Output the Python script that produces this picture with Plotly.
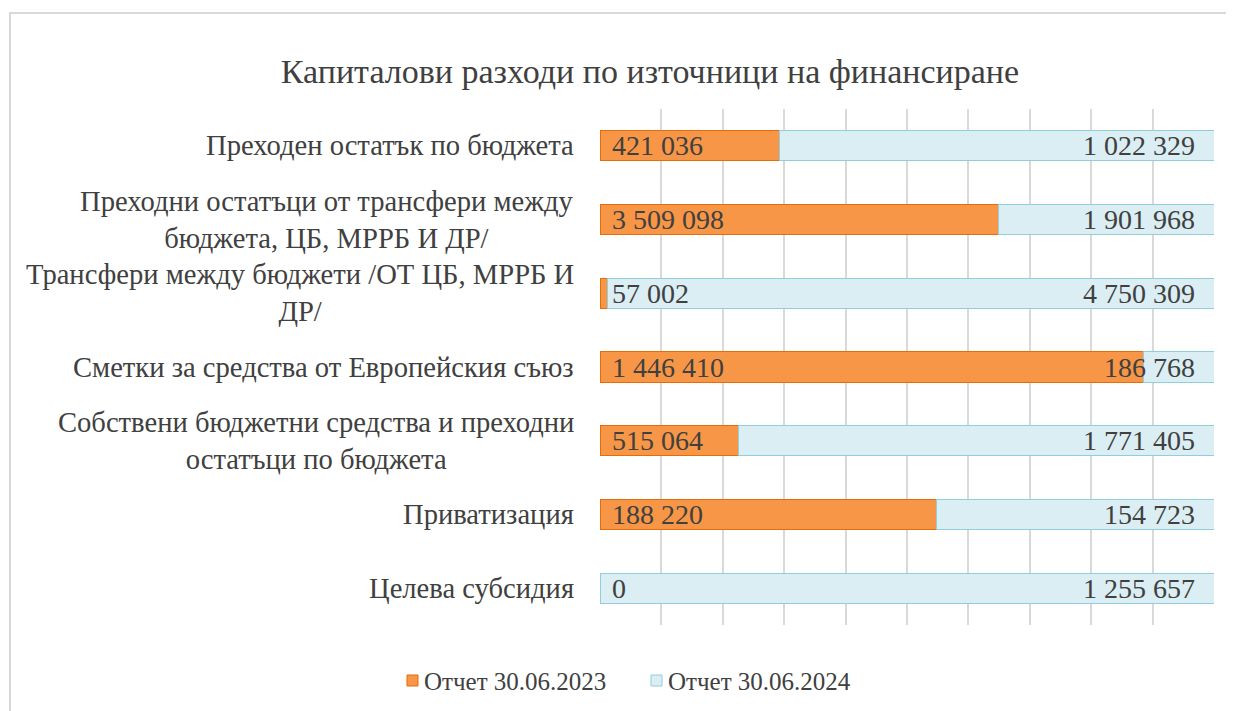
import plotly.graph_objects as go

categories = [
    "Преходен остатък по бюджета",
    "Преходни остатъци от трансфери между<br>бюджета, ЦБ, МРРБ И ДР/",
    "Трансфери между бюджети /ОТ ЦБ, МРРБ И<br>ДР/",
    "Сметки за средства от Европейския съюз",
    "Собствени бюджетни средства и преходни<br>остатъци по бюджета",
    "Приватизация",
    "Целева субсидия",
]
series_names = ["Отчет 30.06.2023", "Отчет 30.06.2024"]
values_2023 = [421036, 3509098, 57002, 1446410, 515064, 188220, 0]
values_2024 = [1022329, 1901968, 4750309, 186768, 1771405, 154723, 1255657]
title_text = "Капиталови разходи по източници на финансиране"

colors = ["#F79646", "#DAEEF3"]
outlines = ["#E46C0A", "#92CDDC"]
TEXT = "#404040"
FONT = "Liberation Serif"

# page has an 8px body margin; figure sized to fill the 1234x711 window
OFF = 8
W, H = 1234 - OFF, 711 - OFF
PL, PR, PT, PB = 600 - OFF, 1214 - OFF, 109 - OFF, 625 - OFF
ML, MR, MT, MB = PL, W - PR, PT, H - PB
PW, PH = PR - PL, PB - PT


def px(x):  # screen x -> paper x
    return (x - OFF - PL) / PW


def py(y):  # screen y -> paper y
    return (PB - (y - OFF)) / PH


def fmt(v):
    return f"{v:,}".replace(",", " ")


ids = list(range(len(categories)))

fig = go.Figure()
for name, vals, c, oc in zip(series_names, [values_2023, values_2024], colors, outlines):
    fig.add_trace(go.Bar(
        y=ids, x=vals, orientation="h", name=name,
        marker=dict(color=c, line=dict(color=oc, width=1)),
        hoverinfo="x+name",
    ))

# data labels: 2023 at inside base, 2024 at inside end
for i in ids:
    fig.add_annotation(
        x=0, xref="x", y=i, yref="y", text=fmt(values_2023[i]), showarrow=False,
        xanchor="left", yanchor="middle", xshift=10,
        font=dict(family=FONT, size=28, color=TEXT),
    )
    fig.add_annotation(
        x=1, xref="x", y=i, yref="y", text=fmt(values_2024[i]), showarrow=False,
        xanchor="right", yanchor="middle", xshift=-17,
        font=dict(family=FONT, size=28, color=TEXT),
    )

# category labels (centered multi-line)
for i, c in enumerate(categories):
    fig.add_annotation(
        x=0, xref="paper", y=i, yref="y", text=c, showarrow=False,
        xanchor="right", yanchor="middle", align="center", xshift=-24,
        font=dict(family=FONT, size=28.6, color=TEXT),
    )

# legend (drawn manually to match spacing)
legend_items = [(407, series_names[0], colors[0], outlines[0]),
                (651, series_names[1], colors[1], outlines[1])]
for x0, name, c, oc in legend_items:
    fig.add_shape(type="rect", xref="paper", yref="paper",
                  x0=px(x0), x1=px(x0 + 11), y0=py(686), y1=py(675),
                  fillcolor=c, line=dict(color=oc, width=1))
    fig.add_annotation(x=px(x0 + 15), xref="paper", y=py(681), yref="paper",
                       text=name, showarrow=False, xanchor="left", yanchor="middle",
                       font=dict(family=FONT, size=25, color=TEXT))

# outer chart border
fig.add_shape(
    type="rect", xref="paper", yref="paper",
    x0=px(10), x1=px(1260), y0=py(740), y1=py(13),
    line=dict(color="#D9D9D9", width=2), fillcolor="rgba(0,0,0,0)", layer="below",
)

fig.update_layout(
    width=W, height=H,
    margin=dict(l=ML, r=MR, t=MT, b=MB),
    barmode="stack", barnorm="fraction", bargap=0.59,
    paper_bgcolor="white", plot_bgcolor="white",
    title=dict(text=title_text, x=(650 - OFF) / W, xanchor="center",
               y=1 - (71 - OFF) / H, yanchor="middle",
               font=dict(family=FONT, size=34, color=TEXT)),
    showlegend=False,
    xaxis=dict(range=[0, 1], dtick=0.1, showticklabels=False, showgrid=True,
               gridcolor="#D9D9D9", gridwidth=2, zeroline=False, ticks="",
               fixedrange=True),
    yaxis=dict(range=[len(ids) - 0.5, -0.5], autorange=False, showticklabels=False,
               showgrid=False, zeroline=False, fixedrange=True),
)

fig.write_html("out.html")
